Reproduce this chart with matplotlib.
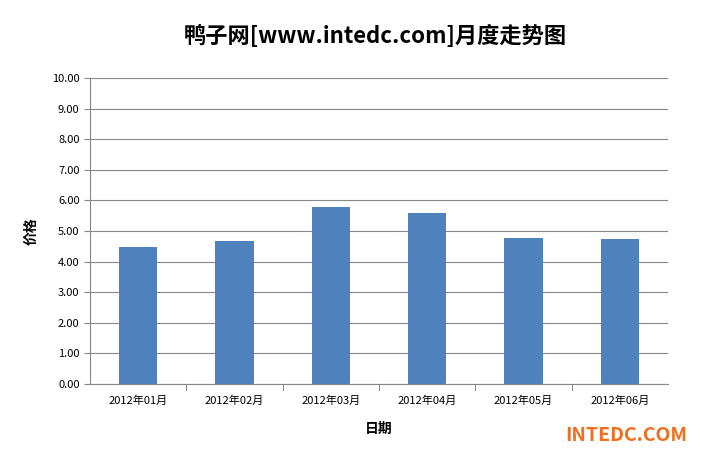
import matplotlib
matplotlib.use("Agg")
import matplotlib.pyplot as plt

plt.rcParams['font.family'] = ['Noto Sans CJK SC', 'DejaVu Sans']

categories = ["2012年01月", "2012年02月", "2012年03月", "2012年04月", "2012年05月", "2012年06月"]
values = [4.48, 4.67, 5.78, 5.59, 4.77, 4.74]
yticks = [i for i in range(11)]

fig = plt.figure(figsize=(7.09, 4.57), dpi=100)
ax = fig.add_axes([90/709, 1-384/457, 578/709, 306/457])
x = list(range(len(categories)))
ax.bar(x, values, width=0.4, color="#4F81BD", zorder=3)
ax.set_xlim(-0.5, 5.5)
ax.set_ylim(0, 10)
ax.set_yticks(yticks)
ax.set_yticklabels([f"{v:.2f}" for v in yticks], fontsize=8)
ax.set_xticks(x)
ax.set_xticklabels(categories, fontsize=8)
ax.grid(axis='y', color="#888888", linewidth=0.8, zorder=0)
for s in ["top", "right"]:
    ax.spines[s].set_visible(False)
ax.spines["left"].set_color("#888888")
ax.spines["bottom"].set_color("#888888")
ax.tick_params(axis='x', length=0, pad=8)
ax.tick_params(axis='y', length=4, color="#888888")
for xv in [0.5, 1.5, 2.5, 3.5, 4.5]:
    ax.axvline(xv, ymin=-0.02, ymax=0, color="#888888", linewidth=0.8, clip_on=False)
ax.set_ylabel("价格", fontsize=10, fontweight='bold', labelpad=10)
ax.set_xlabel("日期", fontsize=10, fontweight='bold', labelpad=12)
fig.text(0.53, 0.905, "鸭子网[www.intedc.com]月度走势图", ha='center', fontsize=16, fontweight='bold')
fig.text(0.97, 0.035, "INTEDC.COM", ha='right', fontsize=14, fontweight='bold', color="#F07020")
fig.savefig("out.png", dpi=100)
